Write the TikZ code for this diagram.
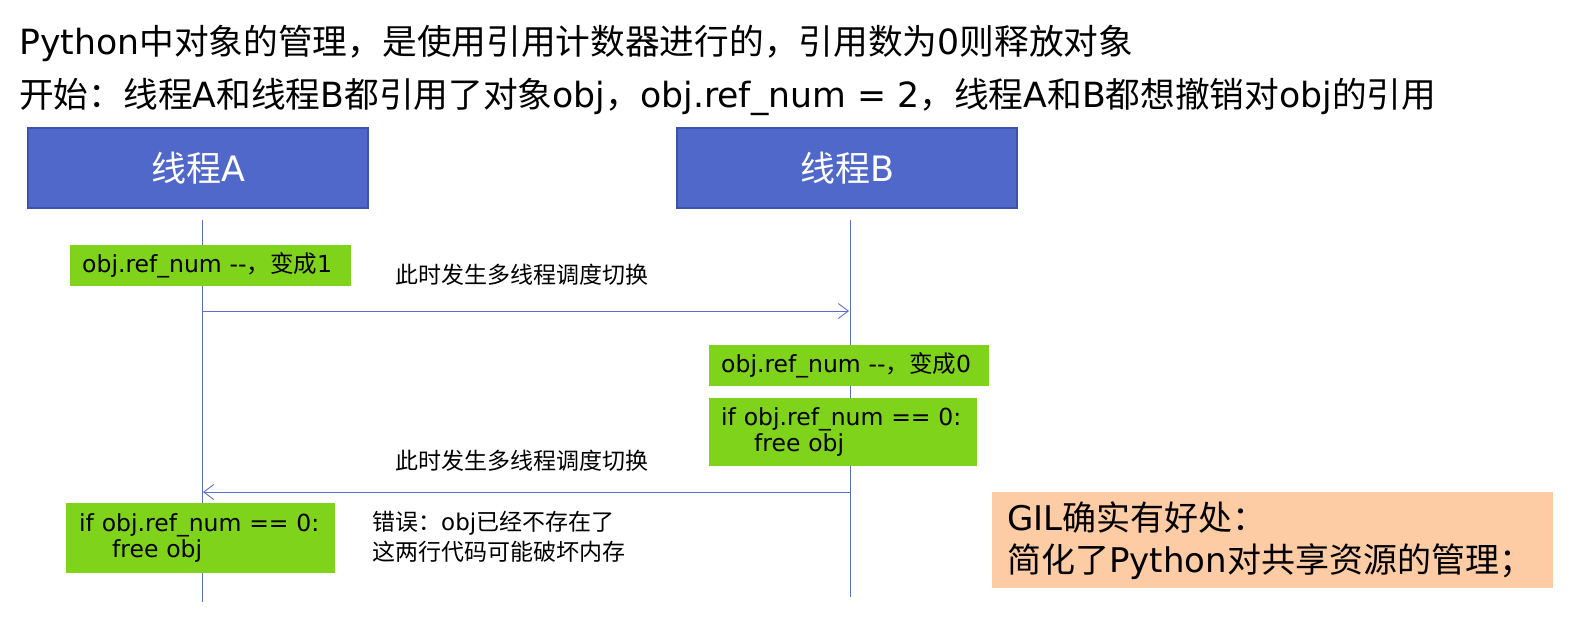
\documentclass[tikz,border=0pt]{standalone}
\usepackage{fontspec}
\setmainfont{DejaVu Sans}
\newfontfamily\cjk{Noto Sans CJK SC}
\newcommand\zhs[1]{{\cjk #1}}
\usetikzlibrary{arrows.meta}
\definecolor{boxblue}{HTML}{4F68C9}
\definecolor{boxedge}{HTML}{3B54A8}
\definecolor{lifeline}{HTML}{5A6FCC}
\definecolor{codegreen}{HTML}{7FD31A}
\definecolor{notepeach}{HTML}{FDCBA4}
\begin{document}
\begin{tikzpicture}[x=1pt,y=-1pt,
  threadbox/.style={draw=boxedge, line width=1.2pt, fill=boxblue, text=white,
    minimum width=340pt, minimum height=80pt, inner sep=0pt,
    font=\fontsize{35}{40}\selectfont},
  codebox/.style={fill=codegreen, anchor=north west, inner xsep=12pt, inner ysep=0pt,
    align=left, font=\fontsize{23.5}{26.5}\selectfont},
  titletext/.style={anchor=west, inner sep=0pt, font=\fontsize{34.7}{42}\selectfont},
  labeltext/.style={anchor=west, inner sep=0pt, align=left, font=\fontsize{23}{30}\selectfont},
  lifeline/.style={draw=lifeline, line width=0.9pt},
  msg/.style={draw=lifeline, line width=0.9pt, -{Straight Barb[length=10pt,width=15pt,line width=0.9pt]}},
  notebox/.style={fill=notepeach, anchor=north west, inner xsep=15pt, inner ysep=0pt,
    align=left, minimum width=561pt, minimum height=96pt, text width=531pt,
    font=\fontsize{34}{42}\selectfont}
]
\useasboundingbox (0,0) rectangle (1571,618);

\node[titletext] (t1) at (19,43) {Python\zhs{中对象的管理，是使用引用计数器进行的，引用数为}0\zhs{则释放对象}};
\node[titletext] (t2) at (19,97) {\zhs{开始：线程}A\zhs{和线程}B\zhs{都引用了对象}obj\zhs{，}obj.ref\_num = 2\zhs{，线程}A\zhs{和}B\zhs{都想撤销对}obj\zhs{的引用}};

\node[threadbox] (A) at (198,168) {\zhs{线程}A};
\node[threadbox] (B) at (847,168) {\zhs{线程}B};

\coordinate (Atop) at (202,220);
\coordinate (Abot) at (202,602);
\coordinate (Btop) at (850,220);
\coordinate (Bbot) at (850,597);
\draw[lifeline] (Atop) -- (Abot);
\draw[lifeline] (Btop) -- (Bbot);

\node[codebox, minimum width=281pt, minimum height=41pt, text width=257pt] (c1) at (70,245) {obj.ref\_num -{}-\zhs{，变成}1};
\node[codebox, minimum width=280pt, minimum height=41pt, text width=256pt] (c2) at (709,345) {obj.ref\_num -{}-\zhs{，变成}0};
\node[codebox, minimum width=268pt, minimum height=68pt, text width=244pt] (c3) at (709,398) {if obj.ref\_num == 0:\\\hspace*{33pt}free obj};
\node[codebox, inner xsep=13pt, minimum width=269pt, minimum height=70pt, text width=243pt] (c4) at (66,503) {if obj.ref\_num == 0:\\\hspace*{33pt}free obj};

\node[labeltext] (l1) at (395,275) {\zhs{此时发生多线程调度切换}};
\node[labeltext] (l2) at (395,461) {\zhs{此时发生多线程调度切换}};
\node[labeltext] (err) at (372,537) {\zhs{错误：}obj\zhs{已经不存在了}\\\zhs{这两行代码可能破坏内存}};

\coordinate (a1) at (202,311);
\coordinate (b1) at (849,311);
\coordinate (b2) at (850,492);
\coordinate (a2) at (203,492);
\draw[msg] (a1) -- (b1);
\draw[msg] (b2) -- (a2);

\node[notebox] (gil) at (992,492) {GIL\zhs{确实有好处：}\\\zhs{简化了}Python\zhs{对共享资源的管理；}};
\end{tikzpicture}
\end{document}
